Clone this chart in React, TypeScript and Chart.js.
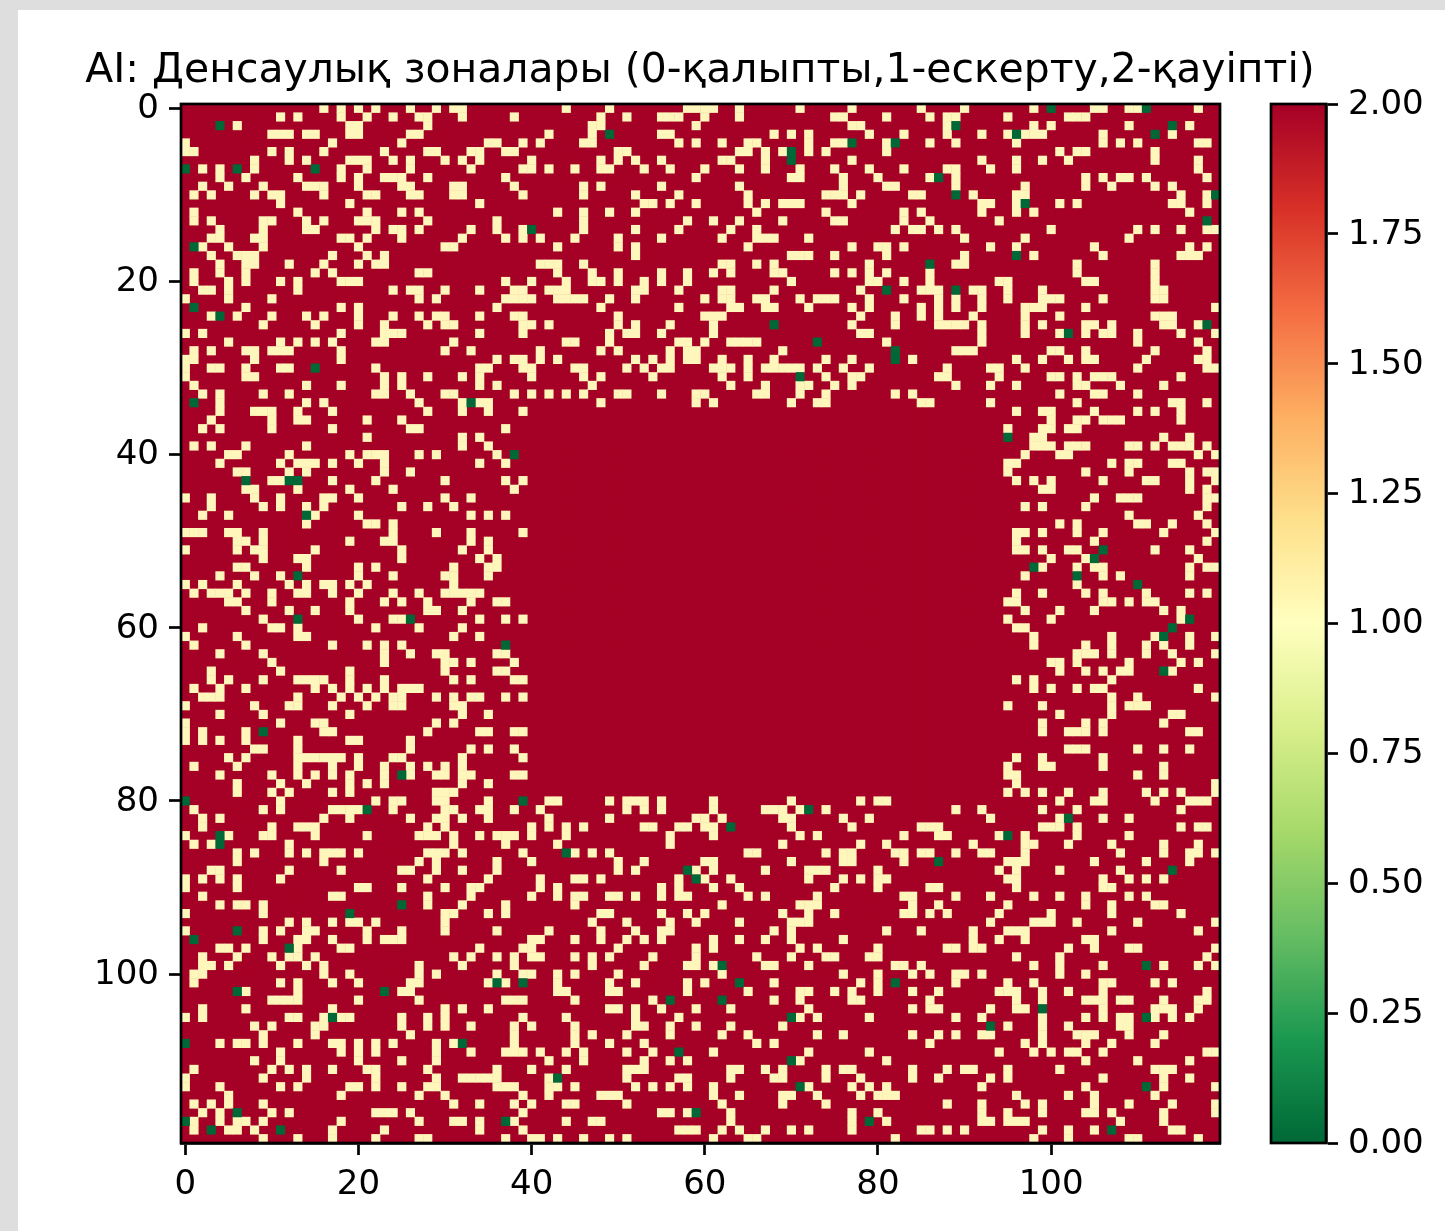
import React, { useEffect, useRef } from "react";
import { Chart, registerables } from "chart.js";

Chart.register(...registerables);

const titleText = "AI: Денсаулық зоналары (0-қалыпты,1-ескерту,2-қауіпті)";
const gridSize = 120;
const blockSize = 40;

// Columns holding value 1 in each row of each 40x40 block of the picture.
const warnTopLeft: number[][] = [
  [16,18,20,22,26,29,31,32],[11,13,18,21,24,27,28,32,38],[6,19,20,28],[10,11,12,14,15,19,20,26,27],[0,17,25,35,36,39],
  [0,1,10,12,16,23,28,29,33,34,37,38],[8,12,14,19,20,21,24,26,30,32,34],[2,4,8,18,21,26,33,39],[4,7,13,18,20,23,24,25,28,37],[2,5,9,14,15,16,20,25,26,31,32,38],
  [1,3,8,10,11,16,21,22,26,27,31,32,39],[11,19,34],[1,13,21,25,27],[1,3,9,10,14,16,20,21,22,28,36],[4,9,14,15,22,24,25,27,33,36,39],
  [3,4,8,9,18,19,21,25,32,37,39],[2,5,9,20,30,31],[3,6,7,8,17,21,23],[4,7,8,12,16,20,22,23],[1,4,7,15,17,27,28],
  [1,5,7,11,13,18,19,20,37],[2,3,5,13,24,26,27,30,34,38,39],[0,5,10,27,29,37,38,39],[7,18,20,36],[3,6,10,14,16,20,24,27,29,30,34,38,39],
  [9,15,20,23,28,30,31,39],[0,2,18,23,24,25,34,39],[5,11,13,15,17,22,23,31],[1,3,7,8,10,11,12,18,30,33],[0,1,8,18,36,38,39],
  [0,3,4,7,11,12,22,34,35,39],[0,7,8,23,25,28,32,34],[1,14,18,23,25,34,36],[2,4,9,12,22,23,26,30,31,38],[4,14,16,27,32,34,35],
  [4,8,9,10,13,17,28,32,35,39],[3,10,13,14,21,25],[2,4,10,17,26,27,37],[21,32,34],[1,3,7,14,32,35],
];
const warnTopMiddle: number[][] = [
  [4,9,18,19,20,21,24,31,37],[8,11,15,16,17,20,24,35,36],[7,8,19,37,38],[2,7,15,16,28,30,32,39],[1,6,7,17,19,22,25,26,32,35,36],
  [10,11,24,25,27,29,32,34],[0,8,10,12,15,22,23,27,37],[0,2,5,8,9,13,16,20,24,27,31,35,39],[19,30,31,36],[6,8,15,24,36],
  [6,12,17,25,34,35,36,38],[13,14,16,19,25,27,29,30,31,37],[3,6,9,12,26,34],[6,18,21,24,29,35,36],[6,12,17,23,26],
  [1,5,10,15,22,26,27,28,32],[3,10,12,25,37],[12,30,31,32,35],[1,2,3,6,22,23,26,28,39],[3,7,10,15,18,21,23,28,29,35,37,39],
  [0,4,7,8,10,13,15,18,30,39],[2,3,4,12,13,17,22,23,28,38],[0,3,4,5,6,9,12,20,22,23,26,27,31,33,34,35,39],[8,17,23,24,27,28,32,37,39],[10,20,21,22,38],
  [0,2,10,12,16,21,37],[9,11,12,15,21,38,39],[4,5,9,17,18,20,23,24,25,26],[1,8,10,16,18,19,29],[1,3,12,14,16,18,19,22,25,28,34,37],
  [0,5,6,11,13,15,16,21,22,23,25,27,28,29,30,31,33,36,39],[0,6,8,14,22,25,34,37,38],[7,23,27,31,32,35,37],[0,2,4,6,10,11,15,19,20,26,27,31,34],[8,19,21,30,33,34],
  [],[],[],[],[],
];
const warnTopRight: number[][] = [
  [5,10,18,25,26,29,30,37],[1,6,8,9,15,22,23,24],[8,18,20,29,36],[3,8,12,15,17,18,19,26,34],[1,6,9,16,26,28,30,37,38],
  [1,21,23,24,32],[12,16,19,22,32,37],[3,8,9,13,16,37],[0,6,9,24,26,28,29,31,38],[1,2,9,17,24,27,32,34],
  [4,5,11,16,17,35,38],[12,13,16,21,23,34,35,38],[3,5,12,16,18,36],[3,6,14],[2,4,5,7,9,20,30,32,35,38,39],
  [10,17,29],[0,1,3,13,16,25,36,38],[1,10,18,26,35,36,37],[9,10,23,32],[1,6,23,32],
  [0,3,6,14,15,24,25,32],[5,6,7,11,12,15,19,32,33],[3,7,9,12,15,19,20,21,26,32,33],[5,7,9,12,17,18,19,24,39],[2,5,7,11,17,21,32,33,34],
  [2,7,8,9,10,12,17,19,24,25,27,33,34,37],[12,17,21,24,26,27,30,35,39],[1,12,30,37],[9,10,11,20,21,24,32,38],[4,16,19,22,24,25,31,37,38],
  [8,13,14,17,30,38,39],[7,8,14,20,21,23,25,26,27,35],[9,13,16,23,24,28,33],[2,4,21,25,26,30],[5,6,13,23,34,35,38],
  [16,19,20,25,30,32,35],[20,23,24,26,27,28,35],[15,19,20,22,23],[18,19,33,36],[18,19,20,22,23,24,29,30,32,34,35,36,38],
];
const warnMiddleLeft: number[][] = [
  [5,6,12,19,21,22,23,27,29,36],[4,11,13,14,15,17,20,23,34,37],[6,7,12,14,23,26],[10,11,17,22,30,37,39],[7,8,13,19,24,38],
  [0,3,8,11,16,17,20,30,33],[3,9,11,14,16,25,28,31],[2,5,15,20,33,35,37],[14,21,22,24],[0,1,2,5,6,9,24,29,33,39],
  [6,7,9,19,23,24,33,35],[0,6,8,9,15,25,32,35],[9,13,14,25,34,36],[6,7,14,20,22,31,35,36],[4,8,11,20,24,30,31,35],
  [0,2,6,12,14,16,17,19,21,31],[1,3,4,5,7,10,13,14,17,20,24,27,30,31,32,33,34],[5,6,10,19,23,25,28,33,36,37],[7,12,15,19,28,29,32],[9,20,24,25,34,37,39],
  [2,10,11,13,22,27,32],[0,6,13,14,31,34],[1,7,17,21,23,25],[4,9,23,26,29,30,36,37],[10,23,30,31,33,38],
  [3,11,19,30,36,37],[3,5,9,13,14,15,16,19,23,31,33,38,39],[1,4,7,15,17,19,21,23,25,26,27],[2,3,4,13,18,20,22,24,25,29,31,33,34,37,39],[0,8,12,13,17,21,24,25,31,32],
  [4,9,19,32,35],[0,11,15,16,29,31],[0,2,7,16,17,28,34,35,38,39],[0,2,4,7,13,19,20,26],[8,9,13,26,33,35,38],
  [5,7,13,14,15,16,17,18,20,24,25,32,39],[1,6,13,17,20,23,26,28,30,32],[4,10,13,15,17,19,23,26,29,30,32,33,38,39],[6,11,14,19,21,23,32,35],[6,10,12,17,19,29,30,31],
];
const warnMiddleRight: number[][] = [
  [17,21,22,37,39],[15,16,27,29,30,34,35],[15,24,29,36,38,39],[16,18,20,26,31,32,36,39],[19,20,36,38],
  [25,28,29,30,38,39],[17,19,24,38],[29,37],[21,23,30,31,34,38],[16,17,19,23,26,33,39],
  [16,25,38],[16,17,19,22,23,32,36],[20,24,37],[19,23,25,26,36,38,39],[17,26,28,36],
  [23],[16,19,24,26,31,36,38],[15,16,26,27,29,31,32],[17,21,25,33,35],[15,20,35],
  [16,17],[18,27,32,36,39],[18,24,27,31,33,36],[23,24,25,27,31,34,39],[20,21,23,29,35,37],
  [21,24,26,28,29,34],[16,18,27],[18,20,23,25,26,37],[27,30,39],[15,19,27,29,30,31],
  [21,27,34,35],[19,24,26,33],[19,22,23,24,26,36,37],[],[22,23,24,30,33,36],
  [16,19,26],[15,19,20,26,33],[15,16,30,33],[16,39],[15,17,19,22,26,31,33,35,39],
];
const warnBottomLeft: number[][] = [
  [11,22,24,25,29,30,35],[1,9,11,17,18,19,20,24,30,31,34,35,38],[2,4,16,19,26,29,30,32,35],[2,10,13,14,15,28,30],[0,5,9,10,15,21,27,28,29,31,34,36,37,38],
  [1,3,12,31,37],[6,8,12,14,16,17,18,20,28,29,30,32,39],[6,16,27,29,36],[3,4,12,18,25,26,29,32,36],[0,2,4,6,11,28,35],
  [0,6,20,21,25,30,33,34],[2,17,18,28,33],[4,6,7,9,28,32,37],[0,9,30,31,35,37],[12,14,17,19,20,22,30],
  [0,9,11,14,15,21,25,30,36],[9,13,14,17,21,23,24,25],[4,5,7,13,18,19,34,39],[2,6,10,12,13,15,31,33,36,38],[2,3,5,11,14,16,27,32,38],
  [1,2,16,19,27,29,36,39],[1,11,13,17,20,26,27,35,37],[7,13,25,26],[10,11,12,13,20,27,37,38,39],[2,7,17,30,32,35],
  [0,2,12,13,16,18,19,25,28,30,39],[8,10,15,16,25,28,30,33,38],[9,15,26,38],[4,6,7,9,13,17,18,20,22,24,29,31,38],[11,18,20,22,29,33,37,38,39],
  [8,11,20,25,29],[1,10,12,14,17,21,22,28,36],[0,9,14,22,29,32,33,34,35,36],[0,4,11,13,19,20,22,25,28,29,36,37,38],[5,18,27,30,39],
  [1,3,5,9,31,34,38],[2,4,10,12,22,23,24,26,39],[1,4,6,7,9,18,27,31,32,34,38],[1,5,6,8,17,23,34,39],[9,13,17,22,27,28,37],
];
const warnBottomMiddle: number[][] = [
  [2,3,9,11,12,13,15,21,30,38],[1,11,13,15,21,27,28,29,31,34],[2,9,19,20,22,29,30,36,39],[0,2,4,6,13,14,17,18,20,21,30,37],[0,4,16,21,31,33],
  [3,16,29,38],[5,7,9,25,26,34,36,37],[0,10,13,20,21,30,36,37],[10,12,19,21,27,32,33,34],[1,5,6,8,17,20,23,32,36,38],
  [1,3,15,17,21,24,35],[0,3,5,6,9,10,12,15,17,18,25,27,33],[5,22,31,32,33],[8,9,15,18,20,29,32,35],[7,11,16,19,24,30,31,32],
  [2,8,12,15,16,28,30],[0,1,5,8,11,13,15,21,24,27,30,36],[0,10,19,21,31,33],[0,1,5,7,9,14,19,26,30,34,35,39],[7,13,18,19,21,27,28,32],
  [0,3,5,10,22,36],[3,9,12,18,20,28,38],[3,4,9,10,18,25,31,32,35,37],[5,14,28,31,37,38],[9,10,12,15,19,23,32],
  [4,12,17,31,33,39],[0,5,12,13,16,19,23,29],[5,7,11,16,22,25,33,36],[5,9,13,26,28],[1,4,6,11,14,21,32,39],
  [2,6,13,16,18,31],[0,4,11,12,13,23,24,27,29,34,36,37],[2,11,17,18,23,28,29,34,38],[2,3,5,12,14,16,18,21,32,37,39],[2,8,9,10,21,24,29,30,33,38],
  [0,4,5,11,22,29,34],[15,16,18,23,37],[4,7,8,23,37],[17,18,19,22,24,27,30,32,37],[0,1,3,6,9,11,21,25,26],
];
const warnBottomRight: number[][] = [
  [0,1,21,25,26,32,36,37,38],[9,12,19,23,35],[13,21,26,29],[5,6,7,19,20,21,23,35,37,38],[3,7,8,14,17,23,29],
  [1,11,17,18,22,27,33,37],[2,3,5,6,9,12,13,17,28,33,36,37,39],[3,15,16,17,25,31,36],[0,14,16,21,28],[0,1,15,16,26,29,31,33],
  [0,6,7,16,26,27],[3,4,9,13,18,21,24,29,31],[4,7,15,24,27,32,33],[3,4,6,8,14,20,27,35],[13,18,19,20,23,30,39],
  [1,5,11,15,16,17,27,37],[11,14,17,24,25],[0,8,9,11,12,22,25,29,30,39],[0,16,21,38],[2,3,5,18,21,26,33,37,39],
  [0,4,6,9,10,12,21,24],[0,9,15,18,26,27,32,34],[0,4,7,14,15,16,19,22,26,38],[6,16,19,24,25,26,28,29,33,37,38],[4,6,7,13,16,17,26,32,33,34,37],
  [9,12,19,24,26,28,29,32,34,36],[15,19,22,28,29],[4,7,9,12,13,19,23,24,25,29,33],[6,17,19,24,27,32],[14,18,20,22,23,26,38,39],
  [1,24,30,36],[4,8,10,11,15,21,32,33,34],[4,7,13,15,26,33,36],[1,12,24,33,39],[0,1,2,16,22,25,32],
  [8,12,17,19,25,29,34,39],[0,12,15,19,24,25,27,33,39],[1,12,13,15,16,17,28,33],[5,6,8,10,19,22,25,34,35],[2,18,22,29,30,37],
];

// [column, row] of the cells holding value 0.
const normalCells: [number, number][] = [
  [4,2],[0,7],[6,7],[15,7],[1,16],[1,23],[4,24],[15,30],[1,34],[33,34],
  [49,3],[70,5],[70,6],[77,4],[40,14],[68,25],[73,27],[71,31],
  [100,0],[111,0],[89,2],[114,2],[96,3],[112,3],[82,4],[87,8],[89,10],[119,10],[97,11],[118,13],[96,17],[86,18],[81,21],[89,21],[118,25],[102,26],[82,28],[82,29],[95,38],
  [38,40],[7,43],[12,43],[13,43],[14,47],[13,54],[13,59],[26,59],[37,62],[9,72],[25,77],
  [106,51],[105,52],[98,53],[103,54],[110,55],[116,59],[114,60],[113,61],[113,65],
  [0,80],[39,80],[21,81],[4,84],[4,85],[25,92],[19,93],[6,95],[1,96],[12,97],[36,101],[39,101],[6,102],[23,102],[17,105],[0,108],[32,108],[6,116],[0,117],[37,117],[3,118],[11,118],
  [72,81],[63,83],[44,86],[58,88],[59,89],[62,99],[64,101],[62,103],[56,103],[70,105],[57,109],[70,110],[43,112],[71,113],[59,116],[79,117],
  [102,82],[95,84],[87,87],[114,88],[111,99],[82,101],[99,104],[111,105],[93,106],[111,113],[107,118],
];

const axisTicks = [0, 20, 40, 60, 80, 100];
const colorbarTicksStep = 0.25;
const colorbarRange = [0, 2];
const palette = ["#006837","#1a9850","#66bd63","#a6d96a","#d9ef8b","#ffffbf","#fee08b","#fdae61","#f46d43","#d73027","#a50026"];
const normalColor = palette[0];
const warnColor = "#fff6bc";
const dangerColor = palette[10];

const placements: [number[][], number, number][] = [
  [warnTopLeft, 0, 0], [warnTopMiddle, 1, 0], [warnTopRight, 2, 0],
  [warnMiddleLeft, 0, 1], [warnMiddleRight, 2, 1],
  [warnBottomLeft, 0, 2], [warnBottomMiddle, 1, 2], [warnBottomRight, 2, 2],
];

function buildGrid(): number[][] {
  const grid = Array.from({ length: gridSize }, () => new Array<number>(gridSize).fill(2));
  placements.forEach(([rows, bx, by]) => {
    rows.forEach((cols, r) => cols.forEach((c) => {
      grid[by * blockSize + r][bx * blockSize + c] = 1;
    }));
  });
  normalCells.forEach(([c, r]) => { grid[r][c] = 0; });
  return grid;
}

function pointsFor(grid: number[][], value: number) {
  const pts: { x: number; y: number }[] = [];
  grid.forEach((row, y) => row.forEach((v, x) => { if (v === value) pts.push({ x, y }); }));
  return pts;
}

const FONT = "'DejaVu Sans'";
const FRAME = 2.7;
const TICK_FONT = 34;

const framePlugin = {
  id: "frame",
  afterDraw(chart: any) {
    const { ctx, chartArea: a } = chart;
    ctx.save();
    ctx.strokeStyle = "#000";
    ctx.lineWidth = FRAME;
    ctx.strokeRect(a.left, a.top, a.right - a.left, a.bottom - a.top);
    ctx.restore();
  },
};

const backingPlugin = {
  id: "backing",
  beforeDatasetsDraw(chart: any) {
    const { ctx, chartArea: a } = chart;
    ctx.save();
    ctx.fillStyle = dangerColor;
    ctx.fillRect(a.left, a.top, a.right - a.left, a.bottom - a.top);
    ctx.restore();
  },
};

export default function App() {
  const mapRef = useRef<HTMLCanvasElement>(null);
  const barRef = useRef<HTMLCanvasElement>(null);

  useEffect(() => {
    const grid = buildGrid();
    const cellRadius = (1039 / gridSize) * Math.SQRT1_2;
    const mk = (label: string, data: any[], color: string, order: number, radius: number) => ({
      label, data, order,
      backgroundColor: color,
      pointStyle: "rect",
      pointRadius: radius,
      pointBorderWidth: 0,
      pointHoverRadius: radius,
      showLine: false,
    });
    const axisCommon = {
      grid: { drawOnChartArea: false, drawTicks: true, tickLength: 12, tickWidth: FRAME, tickColor: "#000" },
      border: { display: true, color: "#000", width: FRAME },
    };
    const fixedTicks = (s: any) => { s.ticks = axisTicks.map((value) => ({ value })); };
    const map = new Chart(mapRef.current!, {
      type: "scatter",
      data: {
        datasets: [
          mk("2", pointsFor(grid, 2), dangerColor, 3, cellRadius),
          mk("1", pointsFor(grid, 1), warnColor, 2, cellRadius + 0.35),
          mk("0", pointsFor(grid, 0), normalColor, 1, cellRadius + 0.35),
        ],
      },
      options: {
        animation: false,
        responsive: false,
        devicePixelRatio: 1,
        layout: { padding: 0 },
        plugins: {
          legend: { display: false },
          tooltip: { enabled: false },
          title: {
            display: true,
            text: titleText,
            color: "#000",
            font: { family: FONT, size: 40.9, weight: "normal" },
            padding: { top: 37, bottom: 7.9 },
          },
        },
        scales: {
          x: {
            type: "linear", min: -0.5, max: gridSize - 0.5,
            afterBuildTicks: fixedTicks,
            afterFit(s: any) { s.height = 88; },
            ticks: { autoSkip: false, maxRotation: 0, color: "#000", padding: 10, font: { family: FONT, size: TICK_FONT } },
            ...axisCommon,
          },
          y: {
            type: "linear", reverse: true, min: -0.5, max: gridSize - 0.5,
            afterBuildTicks: fixedTicks,
            afterFit(s: any) { s.width = 163; },
            ticks: { autoSkip: false, color: "#000", padding: 10, labelOffset: 1, font: { family: FONT, size: TICK_FONT } },
            ...axisCommon,
          },
          spacer: {
            type: "linear", position: "right",
            afterFit(s: any) { s.width = 162; },
            ticks: { display: false },
            grid: { display: false },
            border: { display: false },
          },
        },
      } as any,
      plugins: [backingPlugin, framePlugin],
    });

    const bar = new Chart(barRef.current!, {
      type: "bar",
      data: {
        labels: [""],
        datasets: [{
          data: [colorbarRange as any],
          barPercentage: 1,
          categoryPercentage: 1,
          backgroundColor: (c: any) => {
            const a = c.chart.chartArea;
            if (!a) return dangerColor;
            const g = c.chart.ctx.createLinearGradient(0, a.bottom, 0, a.top);
            palette.forEach((col, i) => g.addColorStop(i / (palette.length - 1), col));
            return g;
          },
        }],
      },
      options: {
        animation: false,
        responsive: false,
        devicePixelRatio: 1,
        layout: { padding: { left: 11, right: 0, top: 94, bottom: 88 } },
        plugins: { legend: { display: false }, tooltip: { enabled: false } },
        scales: {
          x: { display: false },
          y: {
            position: "right", min: colorbarRange[0], max: colorbarRange[1],
            afterFit(s: any) { s.width = 119; },
            ticks: {
              stepSize: colorbarTicksStep, autoSkip: false, color: "#000", padding: 10, labelOffset: 1,
              font: { family: FONT, size: TICK_FONT },
              callback: (v: any) => Number(v).toFixed(2),
            },
            ...axisCommon,
          },
        },
      } as any,
      plugins: [framePlugin],
    });
    return () => { map.destroy(); bar.destroy(); };
  }, []);

  return (
    <div style={{ position: "fixed", inset: 0, background: "#dedede", overflow: "hidden" }}>
      <div style={{ position: "absolute", left: 18, top: 10, width: 1427, height: 1221, background: "#fff" }}>
        <canvas ref={mapRef} width={1364} height={1221} style={{ position: "absolute", left: 0, top: 0, display: "block" }} />
        <canvas ref={barRef} width={185} height={1221} style={{ position: "absolute", left: 1242, top: 0, display: "block" }} />
      </div>
    </div>
  );
}
